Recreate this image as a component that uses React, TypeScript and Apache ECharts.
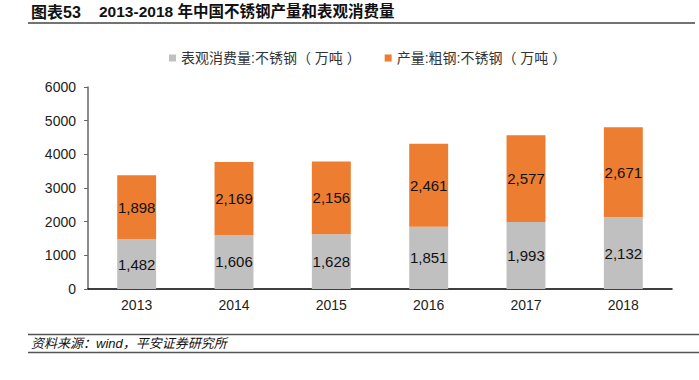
import React, { useEffect, useRef } from "react";
import * as echarts from "echarts";

const years = ["2013", "2014", "2015", "2016", "2017", "2018"];
const consumption = [1482, 1606, 1628, 1851, 1993, 2132];
const production = [1898, 2169, 2156, 2461, 2577, 2671];
const seriesNames = ["表观消费量:不锈钢（ 万吨 ）", "产量:粗钢:不锈钢（ 万吨 ）"];
const yTicks = { min: 0, max: 6000, interval: 1000 };

const FONT = "'Liberation Sans', Arial, 'Noto Sans CJK SC', sans-serif";

export default function App() {
  const ref = useRef<HTMLDivElement>(null);
  useEffect(() => {
    const chart = echarts.init(ref.current!, null, { renderer: "svg" });
    const fmt = (p: any) => Number(p.value).toLocaleString("en-US");
    chart.setOption({
      animation: false,
      backgroundColor: "#fff",
      textStyle: { fontFamily: FONT },
      grid: { left: 88, right: 27, top: 87, bottom: 91 },
      legend: {
        left: 164,
        top: 46,
        itemWidth: 7,
        itemHeight: 7,
        itemGap: 24,
        icon: "rect",
        textStyle: { fontSize: 14, color: "#333", fontFamily: FONT },
        data: seriesNames,
      },
      xAxis: {
        type: "category",
        data: years,
        axisLine: { lineStyle: { color: "#000", width: 1.5 } },
        axisTick: { inside: true, length: 4, lineStyle: { color: "#000" } },
        axisLabel: { color: "#222", fontSize: 14, margin: 9 },
      },
      yAxis: {
        type: "value",
        min: yTicks.min,
        max: yTicks.max,
        interval: yTicks.interval,
        axisLine: { show: true, lineStyle: { color: "#666", width: 1.5 } },
        axisTick: { show: true, length: 4, lineStyle: { color: "#666" } },
        axisLabel: { color: "#222", fontSize: 14, margin: 12, formatter: (v: number) => String(v) },
        splitLine: { show: false },
      },
      series: [
        {
          name: seriesNames[0],
          type: "bar",
          stack: "a",
          data: consumption,
          barWidth: "40%",
          itemStyle: { color: "#c0c0c0" },
          label: { show: true, position: "inside", color: "#111", fontSize: 15, formatter: fmt },
        },
        {
          name: seriesNames[1],
          type: "bar",
          stack: "a",
          data: production,
          barWidth: "40%",
          itemStyle: { color: "#ed7d31" },
          label: { show: true, position: "inside", color: "#111", fontSize: 15, formatter: fmt },
        },
      ],
      graphic: [
        {
          type: "text",
          left: 31,
          top: 4,
          style: { text: "图表53", fontSize: 16, fontWeight: "bold", fill: "#111", fontFamily: FONT },
        },
        {
          type: "text",
          left: 99,
          top: 4,
          style: { text: "2013-2018 年中国不锈钢产量和表观消费量", fontSize: 15.5, fontWeight: "bold", fill: "#111", fontFamily: FONT },
        },
        { type: "line", shape: { x1: 28, y1: 23, x2: 695, y2: 23 }, style: { stroke: "#444", lineWidth: 1.5 } },
        { type: "line", shape: { x1: 28, y1: 334.5, x2: 699, y2: 334.5 }, style: { stroke: "#555", lineWidth: 1.5 } },
        { type: "line", shape: { x1: 28, y1: 352.5, x2: 699, y2: 352.5 }, style: { stroke: "#555", lineWidth: 1.5 } },
        {
          type: "text",
          left: 31,
          top: 337,
          style: { text: "资料来源：wind，平安证券研究所", fontSize: 13, fontStyle: "italic", fill: "#111", fontFamily: FONT },
        },
      ],
    });
    return () => chart.dispose();
  }, []);
  return <div ref={ref} style={{ width: 699, height: 380, position: "absolute", left: 0, top: 0 }} />;
}
